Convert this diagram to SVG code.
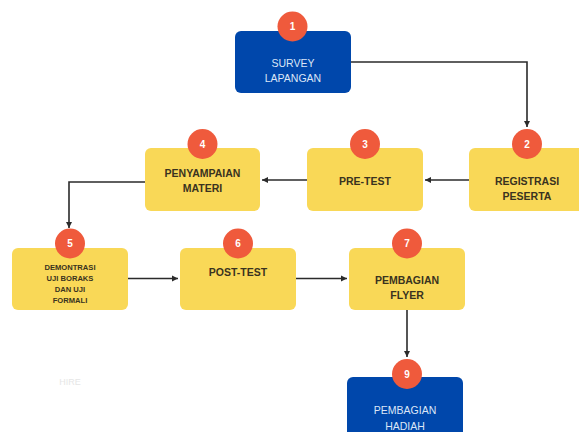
<svg xmlns="http://www.w3.org/2000/svg" width="579" height="432" viewBox="0 0 579 432">
<defs>
<marker id="ah" markerWidth="8" markerHeight="8" refX="6" refY="4" orient="auto" markerUnits="userSpaceOnUse">
<path d="M0,1 L6,4 L0,7 Z" fill="#2b2b2b"/>
</marker>
<style>
.y{fill:#F9D857}
.b{fill:#0047AB}
.c{fill:#EF5A3C}
.n{font-family:"Liberation Sans",Arial,sans-serif;font-weight:bold;font-size:10px;fill:#fff;text-anchor:middle;dominant-baseline:central}
.t{font-family:"Liberation Sans",Arial,sans-serif;font-weight:bold;font-size:10.5px;fill:#3a3320;text-anchor:middle;dominant-baseline:central}
.s{font-family:"Liberation Sans",Arial,sans-serif;font-weight:bold;font-size:7.6px;fill:#3a3320;text-anchor:middle;dominant-baseline:central}
.w{font-family:"Liberation Sans",Arial,sans-serif;font-size:10.5px;fill:#dce6f7;text-anchor:middle;dominant-baseline:central}
.l{fill:none;stroke:#2b2b2b;stroke-width:1.6}
</style>
</defs>
<rect width="579" height="432" fill="#fff"/>
<g id="connectors">
<path class="l" d="M351,62 H527 V127" marker-end="url(#ah)"/>
<path class="l" d="M469,180 H425" marker-end="url(#ah)"/>
<path class="l" d="M307,180 H262" marker-end="url(#ah)"/>
<path class="l" d="M145,182 H69 V228" marker-end="url(#ah)"/>
<path class="l" d="M128,278.5 H178" marker-end="url(#ah)"/>
<path class="l" d="M296,278.5 H347" marker-end="url(#ah)"/>
<path class="l" d="M407,310 V357" marker-end="url(#ah)"/>
</g>
<g id="node1">
<rect class="b" x="235" y="31" width="116" height="62" rx="6"/>
<text class="w" x="293" y="63">SURVEY</text>
<text class="w" x="293" y="78">LAPANGAN</text>
<circle class="c" cx="292.5" cy="26.5" r="15"/>
<text class="n" x="292.5" y="26.5">1</text>
</g>
<g id="node2">
<rect class="y" x="469" y="148" width="120" height="63" rx="6"/>
<text class="t" x="527" y="181">REGISTRASI</text>
<text class="t" x="527" y="196">PESERTA</text>
<circle class="c" cx="527" cy="144" r="15"/>
<text class="n" x="527" y="144">2</text>
</g>
<g id="node3">
<rect class="y" x="307" y="148" width="116" height="63" rx="6"/>
<text class="t" x="365" y="181">PRE-TEST</text>
<circle class="c" cx="365" cy="144" r="15"/>
<text class="n" x="365" y="144">3</text>
</g>
<g id="node4">
<rect class="y" x="145" y="148" width="115" height="63" rx="6"/>
<text class="t" x="202.5" y="173">PENYAMPAIAN</text>
<text class="t" x="202.5" y="188">MATERI</text>
<circle class="c" cx="202.5" cy="144" r="15"/>
<text class="n" x="202.5" y="144">4</text>
</g>
<g id="node5">
<rect class="y" x="12" y="248" width="116" height="62" rx="6"/>
<text class="s" x="70" y="267">DEMONTRASI</text>
<text class="s" x="70" y="278">UJI BORAKS</text>
<text class="s" x="70" y="289">DAN UJI</text>
<text class="s" x="70" y="300">FORMALI</text>
<circle class="c" cx="70" cy="243.5" r="15"/>
<text class="n" x="70" y="243.5">5</text>
</g>
<g id="node6">
<rect class="y" x="180" y="248" width="116" height="62" rx="6"/>
<text class="t" x="238" y="271.5">POST-TEST</text>
<circle class="c" cx="238" cy="243.5" r="15"/>
<text class="n" x="238" y="243.5">6</text>
</g>
<g id="node7">
<rect class="y" x="349" y="248" width="116" height="62" rx="6"/>
<text class="t" x="407" y="279.5">PEMBAGIAN</text>
<text class="t" x="407" y="294.5">FLYER</text>
<circle class="c" cx="407" cy="243.5" r="15"/>
<text class="n" x="407" y="243.5">7</text>
</g>
<g id="node9">
<rect class="b" x="347" y="377" width="116" height="62" rx="6"/>
<text class="w" x="405" y="410">PEMBAGIAN</text>
<text class="w" x="405" y="426">HADIAH</text>
<circle class="c" cx="407" cy="374" r="15"/>
<text class="n" x="407" y="374">9</text>
</g>
<text x="70" y="382" font-family="Liberation Sans,Arial,sans-serif" font-size="9px" fill="#e6e6e6" text-anchor="middle" dominant-baseline="central">HIRE</text>
</svg>
